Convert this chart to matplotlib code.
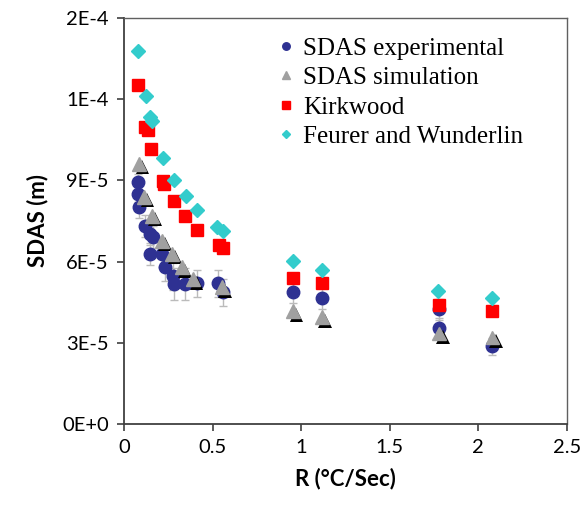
import numpy as np
import matplotlib
matplotlib.use("Agg")
import matplotlib.pyplot as plt
import matplotlib.patheffects as pe

# SDAS experimental (with error bars)
r_exp = [0.079, 0.079, 0.085, 0.118, 0.147, 0.164, 0.147, 0.214, 0.231, 0.276,
         0.282, 0.344, 0.412, 0.530, 0.559, 0.954, 1.117, 1.78, 1.78, 2.08]
sdas_exp = [8.95e-5, 8.50e-5, 8.02e-5, 7.31e-5, 7.02e-5, 6.91e-5, 6.28e-5, 6.28e-5,
            5.79e-5, 5.46e-5, 5.16e-5, 5.16e-5, 5.20e-5, 5.20e-5, 4.86e-5,
            4.86e-5, 4.64e-5, 4.23e-5, 3.53e-5, 2.86e-5]
err_exp = [3e-6, 3e-6, 4e-6, 4e-6, 4e-6, 4e-6, 4e-6, 5e-6, 5e-6, 5e-6,
           6e-6, 6e-6, 5e-6, 5e-6, 5e-6, 4e-6, 4e-6, 4e-6, 4e-6, 3e-6]

# SDAS simulation
r_sim = [0.085, 0.113, 0.158, 0.214, 0.270, 0.327, 0.390, 0.553, 0.954, 1.117, 1.78, 2.08]
sdas_sim = [9.62e-5, 8.39e-5, 7.69e-5, 6.76e-5, 6.28e-5, 5.79e-5, 5.35e-5, 5.05e-5,
            4.16e-5, 3.94e-5, 3.34e-5, 3.19e-5]

# Kirkwood
r_kirk = [0.079, 0.118, 0.135, 0.152, 0.220, 0.226, 0.282, 0.344, 0.410, 0.536, 0.560,
          0.954, 1.120, 1.780, 2.080]
sdas_kirk = [1.251e-4, 1.099e-4, 1.085e-4, 1.017e-4, 8.99e-5, 8.88e-5, 8.24e-5, 7.69e-5,
             7.17e-5, 6.61e-5, 6.50e-5, 5.38e-5, 5.20e-5, 4.38e-5, 4.16e-5]

# Feurer and Wunderlin
r_fw = [0.079, 0.124, 0.147, 0.160, 0.220, 0.282, 0.350, 0.410, 0.525, 0.560,
        0.954, 1.117, 1.770, 2.080]
sdas_fw = [1.378e-4, 1.210e-4, 1.135e-4, 1.120e-4, 9.84e-5, 9.02e-5, 8.43e-5, 7.91e-5,
           7.28e-5, 7.13e-5, 6.01e-5, 5.68e-5, 4.90e-5, 4.64e-5]

x_ticks = [0, 0.5, 1, 1.5, 2, 2.5]
x_labels = ["0", "0.5", "1", "1.5", "2", "2.5"]
y_ticks = [0, 3e-5, 6e-5, 9e-5, 1.2e-4, 1.5e-4]
y_labels = ["0E+0", "3E-5", "6E-5", "9E-5", "1E-4", "2E-4"]

tick_font = "Lato"

fig = plt.figure(figsize=(5.82, 5.15), dpi=100)
ax = fig.add_axes([0.213, 0.177, 0.761, 0.788])

h_exp = ax.errorbar(r_exp, sdas_exp, yerr=err_exp, fmt="o", color="#2E3192", ms=9,
                    ecolor="#BBBBBB", elinewidth=1, capsize=3, zorder=3)
h_sim, = ax.plot(r_sim, sdas_sim, "^", color="#A0A0A0", ms=10, zorder=4,
                 path_effects=[pe.withSimplePatchShadow(offset=(2.5, -2.5),
                                                        shadow_rgbFace="black", alpha=1.0)])
h_kirk, = ax.plot(r_kirk, sdas_kirk, "s", color="#FF0000", ms=9, zorder=5)
h_fw, = ax.plot(r_fw, sdas_fw, "D", color="#33CCCC", ms=7, zorder=6)

ax.set_xlim(0, 2.5)
ax.set_ylim(0, 1.5e-4)
ax.set_xticks(x_ticks)
ax.set_xticklabels(x_labels, fontfamily=tick_font, fontsize=14.5)
ax.set_yticks(y_ticks)
ax.set_yticklabels(y_labels, fontfamily=tick_font, fontsize=14.5)
ax.tick_params(direction="out", length=5, width=1.2, color="#404040", pad=6)

for side in ["left", "bottom"]:
    ax.spines[side].set_color("#404040")
    ax.spines[side].set_linewidth(1.3)
for side in ["top", "right"]:
    ax.spines[side].set_color("#606060")
    ax.spines[side].set_linewidth(1.0)

ax.set_xlabel("R (°C/Sec)", fontfamily=tick_font, fontweight="bold", fontsize=16, labelpad=8)
ax.set_ylabel("SDAS (m)", fontfamily=tick_font, fontweight="bold", fontsize=16, labelpad=10)

# legend without error bars on the marker
h_exp_leg, = ax.plot([], [], "o", color="#2E3192", ms=9)
h_sim_leg, = ax.plot([], [], "^", color="#A0A0A0", ms=10)
ax.legend([h_exp_leg, h_sim_leg, h_kirk, h_fw],
          ["SDAS experimental", "SDAS simulation", "Kirkwood", "Feurer and Wunderlin"],
          loc="upper left", bbox_to_anchor=(0.315, 0.99), frameon=False,
          prop={"family": "Liberation Serif", "size": 18}, markerscale=0.6,
          handlelength=0.6, handletextpad=0.4, labelspacing=0.28, borderaxespad=0.2)

fig.savefig("out.png", dpi=100)
